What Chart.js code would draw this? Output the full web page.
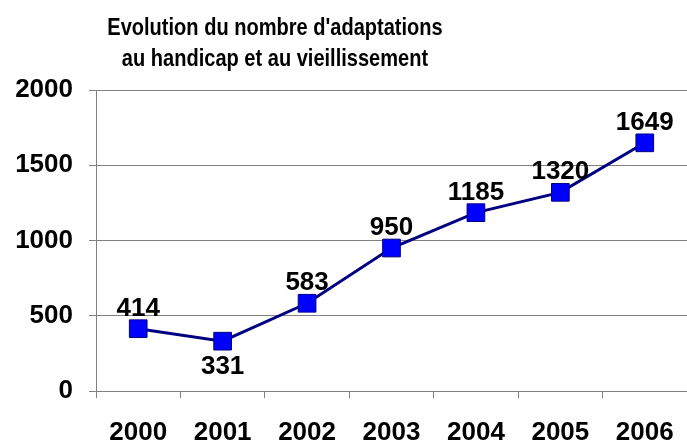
<!DOCTYPE html>
<html>
<head>
<meta charset="utf-8">
<script src="https://cdn.jsdelivr.net/npm/chart.js@4"></script>
<style>
    html, body { margin: 0; padding: 0; background: #fff; }
    #wrap { width: 687px; height: 442px; }
</style>
</head>
<body>
<div id="wrap"><canvas id="chart"></canvas></div>
<script>
const years = ['2000', '2001', '2002', '2003', '2004', '2005', '2006'];
const adaptations = [414, 331, 583, 950, 1185, 1320, 1649];
// label placement: true = below the point
const labelBelow = [false, true, false, false, false, false, false];
const titleLines = ["Evolution du nombre d'adaptations", 'au handicap et au vieillissement'];

const FONT = "'Liberation Sans', Arial, sans-serif";

// title sits left of centre and looks horizontally squeezed in the original
const chartTitle = {
    id: 'chartTitle',
    afterDraw(chart) {
        const ctx = chart.ctx;
        const squeeze = 0.835;
        ctx.save();
        ctx.font = `bold 24px ${FONT}`;
        ctx.fillStyle = '#000';
        ctx.textAlign = 'center';
        ctx.textBaseline = 'alphabetic';
        ctx.scale(squeeze, 1);
        ctx.fillText(titleLines[0], 275 / squeeze, 34.5);
        ctx.fillText(titleLines[1], 275 / squeeze, 66);
        ctx.restore();
    }
};

const pointLabels = {
    id: 'pointLabels',
    afterDatasetsDraw(chart) {
        const ctx = chart.ctx;
        const meta = chart.getDatasetMeta(0);
        ctx.save();
        ctx.font = `bold 26px ${FONT}`;
        ctx.fillStyle = '#000';
        ctx.textAlign = 'center';
        meta.data.forEach((pt, i) => {
            if (labelBelow[i]) {
                ctx.textBaseline = 'top';
                ctx.fillText(adaptations[i], pt.x, pt.y + 13);
            } else {
                ctx.textBaseline = 'alphabetic';
                ctx.fillText(adaptations[i], pt.x, pt.y - 13);
            }
        });
        ctx.restore();
    }
};

new Chart(document.getElementById('chart').getContext('2d'), {
    type: 'line',
    data: {
        labels: years,
        datasets: [{
            data: adaptations,
            borderColor: '#000080',
            borderWidth: 3,
            backgroundColor: '#0000ff',
            pointStyle: 'rect',
            pointRadius: 12.5,
            pointHoverRadius: 12.5,
            pointBorderColor: '#000080',
            pointBorderWidth: 1,
            tension: 0,
            clip: false
        }]
    },
    options: {
        responsive: true,
        maintainAspectRatio: false,
        animation: false,
        layout: { autoPadding: false, padding: { left: 0, right: 0, top: 90, bottom: 0 } },
        plugins: {
            legend: { display: false },
            tooltip: { enabled: false },
            title: { display: false }
        },
        scales: {
            x: {
                offset: true,
                grid: { offset: true, drawOnChartArea: false, color: '#808080', tickLength: 7 },
                border: { color: '#808080' },
                ticks: { color: '#000', font: { family: FONT, size: 26, weight: 'bold' }, padding: 19, maxRotation: 0 },
                afterFit(scale) {
                    scale.height = 51;
                    scale.paddingLeft = 0;
                    scale.paddingRight = 0;
                }
            },
            y: {
                min: 0,
                max: 2000,
                grid: { color: '#808080', tickLength: 7 },
                border: { color: '#808080' },
                ticks: {
                    stepSize: 500,
                    color: '#000',
                    font: { family: FONT, size: 26, weight: 'bold' },
                    padding: 16,
                    callback: (v) => String(v)
                },
                afterFit(scale) {
                    scale.width = 96;
                    scale.paddingTop = 0;
                    scale.paddingBottom = 0;
                }
            }
        }
    },
    plugins: [pointLabels, chartTitle]
});
</script>
</body>
</html>
